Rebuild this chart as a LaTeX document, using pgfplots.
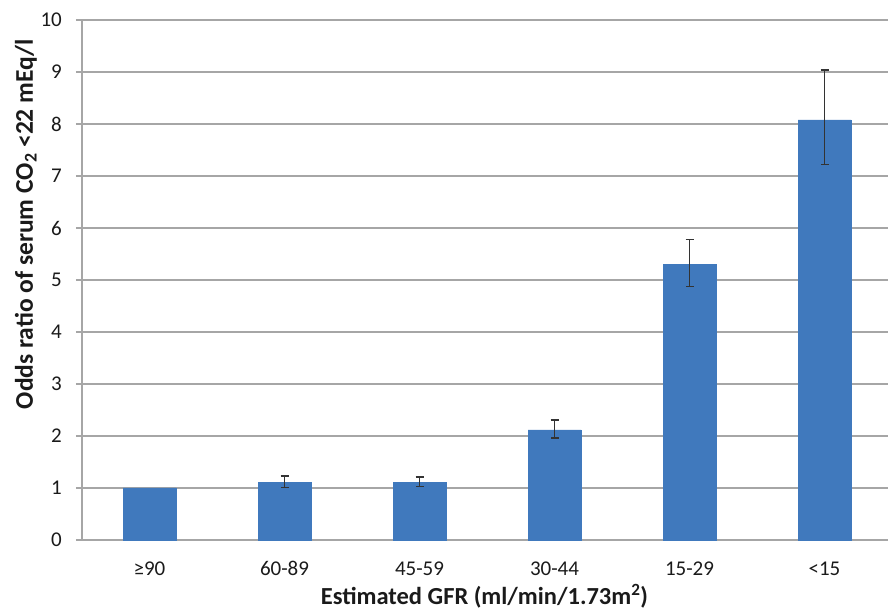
\documentclass[border=0pt]{standalone}
\usepackage{pgfplots}
\pgfplotsset{compat=1.18}
\usepackage{fontspec}
\setmainfont{Carlito}
\definecolor{barblue}{HTML}{4079BD}
\definecolor{gridgray}{HTML}{A6A6A6}
\definecolor{txt}{HTML}{1A1A1A}
\begin{document}
\begin{tikzpicture}
\useasboundingbox (0,0) rectangle (888pt,612pt);
\begin{axis}[
  at={(82pt,72pt)}, anchor=south west,
  scale only axis, width=810pt, height=520pt,
  xmin=-0.5, xmax=5.5, ymin=0, ymax=10,
  axis x line=bottom, axis y line=left,
  axis line style={gridgray, line width=1.2pt, -},
  xtick={0,...,5},
  xticklabels={≥90,60-89,45-59,30-44,15-29,<15},
  major x tick style={draw=none},
  extra x ticks={-0.5,0.5,1.5,2.5,3.5,4.5},
  extra x tick labels={},
  extra x tick style={grid=none, major tick length=6pt, tick style={gridgray, line width=1.2pt}},
  ytick={0,...,10},
  ymajorgrids,
  grid style={gridgray, line width=1.2pt},
  tick align=outside,
  major tick length=6pt,
  tick style={gridgray, line width=1.2pt},
  /pgf/number format/assume math mode=true,
  ticklabel style={font=\fontsize{21}{25}\selectfont, text=txt},
  yticklabel style={inner sep=0pt, xshift=-14pt},
  xticklabel style={inner sep=0pt, anchor=north, text height=13pt, text depth=0pt, yshift=-16pt},
  xlabel={Estimated GFR (ml/min/1.73m\textsuperscript{2})},
  ylabel={Odds ratio of serum CO\textsubscript{2} <22 mEq/l},
  label style={font=\fontsize{24.5}{29}\selectfont\bfseries, text=txt},
  ylabel style={font=\fontsize{25.5}{30}\selectfont\bfseries},
  xlabel style={at={(axis description cs:0.4969,-0.125)}, anchor=base},
  ylabel style={at={(axis description cs:-0.0605,0.607)}, anchor=base, rotate=0},
  clip=false,
]
\addplot[ybar, bar width=53pt, fill=barblue, draw=barblue,
  error bars/.cd, y dir=both, y explicit,
  error bar style={black!80, line width=1.4pt},
  error mark options={rotate=90, mark size=4pt, line width=1.4pt, black!80}]
coordinates {
  (0,1.00)
  (1,1.11) += (0,0.12) -= (0,0.10)
  (2,1.11) += (0,0.10) -= (0,0.08)
  (3,2.12) += (0,0.19) -= (0,0.16)
  (4,5.30) += (0,0.48) -= (0,0.43)
  (5,8.08) += (0,0.96) -= (0,0.86)
};
\end{axis}
\end{tikzpicture}
\end{document}
